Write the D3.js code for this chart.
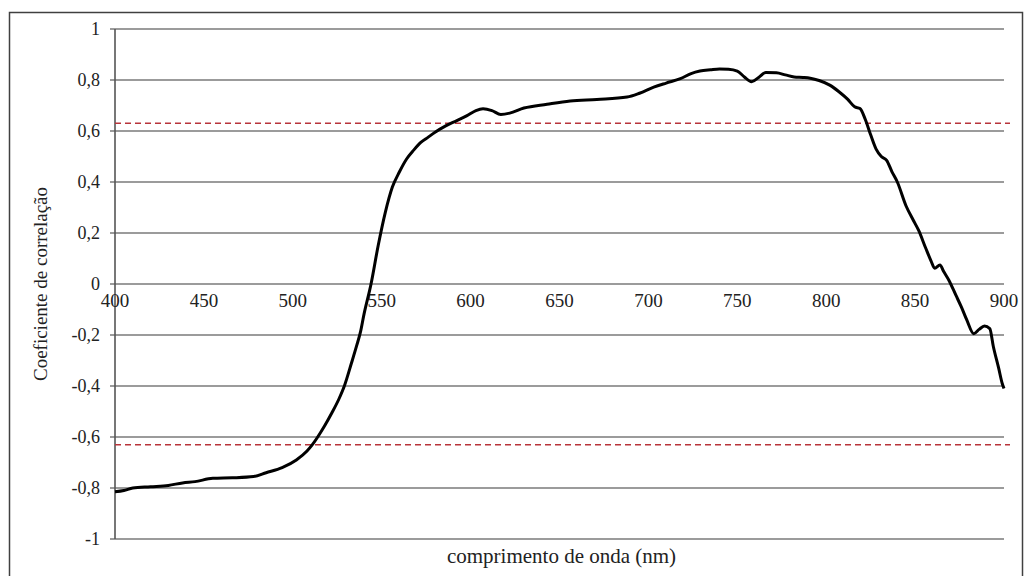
<!DOCTYPE html>
<html>
<head>
<meta charset="utf-8">
<script src="https://cdn.jsdelivr.net/npm/d3@7"></script>
<style>
  body { margin: 0; background: #fff; }
  svg text { font-family: "Liberation Serif", "DejaVu Serif", serif; }
</style>
</head>
<body>
<div id="chart"></div>
<script>
// Wavelength (nm) and correlation coefficient
const wavelengths = [400, 405, 410, 420, 430, 438, 445, 455, 466, 478, 485, 494, 502, 508, 511, 514, 518, 522, 526, 529,
  533, 536, 538, 540, 544, 548, 552, 556, 560, 564, 568, 572, 576, 580, 586, 592, 598, 603, 607, 612,
  617, 622, 630, 643, 656, 671, 688, 695, 703, 710, 718, 724, 729, 735, 740, 745, 750, 754, 758, 762,
  766, 772, 777, 782, 787, 791, 796, 802, 807, 812, 816, 819, 822, 825, 828, 831, 834, 837, 840, 845,
  849, 852, 856, 859, 861, 864, 866, 869, 873, 876, 879, 883, 886, 889, 892, 894, 897, 899, 900];
const correlation = [-0.815, -0.81, -0.80, -0.795, -0.79, -0.78, -0.775, -0.762, -0.76, -0.755, -0.74, -0.72, -0.69, -0.655, -0.63, -0.60, -0.555, -0.505, -0.45, -0.40,
  -0.31, -0.24, -0.19, -0.12, 0.0, 0.15, 0.28, 0.38, 0.44, 0.49, 0.525, 0.555, 0.575, 0.595, 0.62, 0.64, 0.66, 0.68, 0.687, 0.68,
  0.665, 0.67, 0.69, 0.705, 0.718, 0.724, 0.733, 0.748, 0.772, 0.788, 0.805, 0.825, 0.835, 0.84, 0.843, 0.842, 0.835, 0.812, 0.793, 0.81,
  0.829, 0.828, 0.82, 0.812, 0.81, 0.807, 0.798, 0.78, 0.755, 0.725, 0.695, 0.688, 0.645, 0.585, 0.53, 0.5, 0.485, 0.44, 0.40, 0.305,
  0.25, 0.21, 0.14, 0.09, 0.062, 0.075, 0.05, 0.015, -0.045, -0.09, -0.14, -0.195, -0.178, -0.165, -0.175, -0.245, -0.33, -0.39, -0.41];

// Critical correlation (significance threshold)
const thresholds = [0.63, -0.63];

const xTicks = [400, 450, 500, 550, 600, 650, 700, 750, 800, 850, 900];
const yTicks = [-1, -0.8, -0.6, -0.4, -0.2, 0, 0.2, 0.4, 0.6, 0.8, 1];

const data = wavelengths.map((w, i) => ({ w: w, r: correlation[i] }));

const W = 1024, H = 576;
const plot = { left: 115, right: 1004, top: 29, bottom: 539 };
const serif = '"Liberation Serif", "DejaVu Serif", serif';

const svg = d3.select("#chart").append("svg")
    .attr("width", W)
    .attr("height", H)
    .style("display", "block");

// outer frame
svg.append("rect")
    .attr("x", 9.5).attr("y", 12.5)
    .attr("width", 1013).attr("height", 620)
    .attr("fill", "none")
    .attr("stroke", "#404040")
    .attr("stroke-width", 1.5);

const x = d3.scaleLinear().domain([400, 900]).range([plot.left, plot.right]);
const y = d3.scaleLinear().domain([-1, 1]).range([plot.bottom, plot.top]);

// Portuguese decimal comma, plain hyphen for negatives
const fmt = v => (v === 0 || Math.abs(v) === 1) ? String(v) : v.toFixed(1).replace(".", ",");

// horizontal gridlines
svg.append("g")
    .selectAll("line")
    .data(yTicks)
    .enter().append("line")
    .attr("x1", plot.left - 5)
    .attr("x2", plot.right)
    .attr("y1", d => y(d))
    .attr("y2", d => y(d))
    .attr("stroke", "#7a7a7a")
    .attr("stroke-width", 1.6);

// y axis line
svg.append("line")
    .attr("x1", plot.left).attr("x2", plot.left)
    .attr("y1", y(1)).attr("y2", y(-1))
    .attr("stroke", "#555")
    .attr("stroke-width", 1.6);

// y tick labels
svg.append("g")
    .selectAll("text")
    .data(yTicks)
    .enter().append("text")
    .attr("x", 100)
    .attr("y", d => y(d))
    .attr("dy", "0.35em")
    .attr("text-anchor", "end")
    .style("font-family", serif)
    .style("font-size", "18px")
    .attr("fill", "#222")
    .text(fmt);

// x tick labels, sitting under the zero line
svg.append("g")
    .selectAll("text")
    .data(xTicks)
    .enter().append("text")
    .attr("x", d => x(d))
    .attr("y", y(0) + 23)
    .attr("text-anchor", "middle")
    .style("font-family", serif)
    .style("font-size", "19px")
    .attr("fill", "#222")
    .text(d => d);

// threshold lines
svg.append("g")
    .selectAll("line")
    .data(thresholds)
    .enter().append("line")
    .attr("x1", plot.left)
    .attr("x2", 1010)
    .attr("y1", d => y(d))
    .attr("y2", d => y(d))
    .attr("stroke", "#b8343a")
    .attr("stroke-width", 1.5)
    .attr("stroke-dasharray", "6,4");

// correlation curve
const line = d3.line()
    .x(d => x(d.w))
    .y(d => y(d.r))
    .curve(d3.curveMonotoneX);

svg.append("path")
    .datum(data)
    .attr("d", line)
    .attr("fill", "none")
    .attr("stroke", "#000")
    .attr("stroke-width", 3)
    .attr("stroke-linejoin", "round");

// axis titles
svg.append("text")
    .attr("x", (plot.left + plot.right) / 2 + 2)
    .attr("y", 563)
    .attr("text-anchor", "middle")
    .style("font-family", serif)
    .style("font-size", "21px")
    .attr("fill", "#222")
    .text("comprimento de onda (nm)");

svg.append("text")
    .attr("transform", `translate(47, ${y(0)}) rotate(-90)`)
    .attr("text-anchor", "middle")
    .style("font-family", serif)
    .style("font-size", "19px")
    .attr("fill", "#222")
    .text("Coeficiente de correlação");
</script>
</body>
</html>
